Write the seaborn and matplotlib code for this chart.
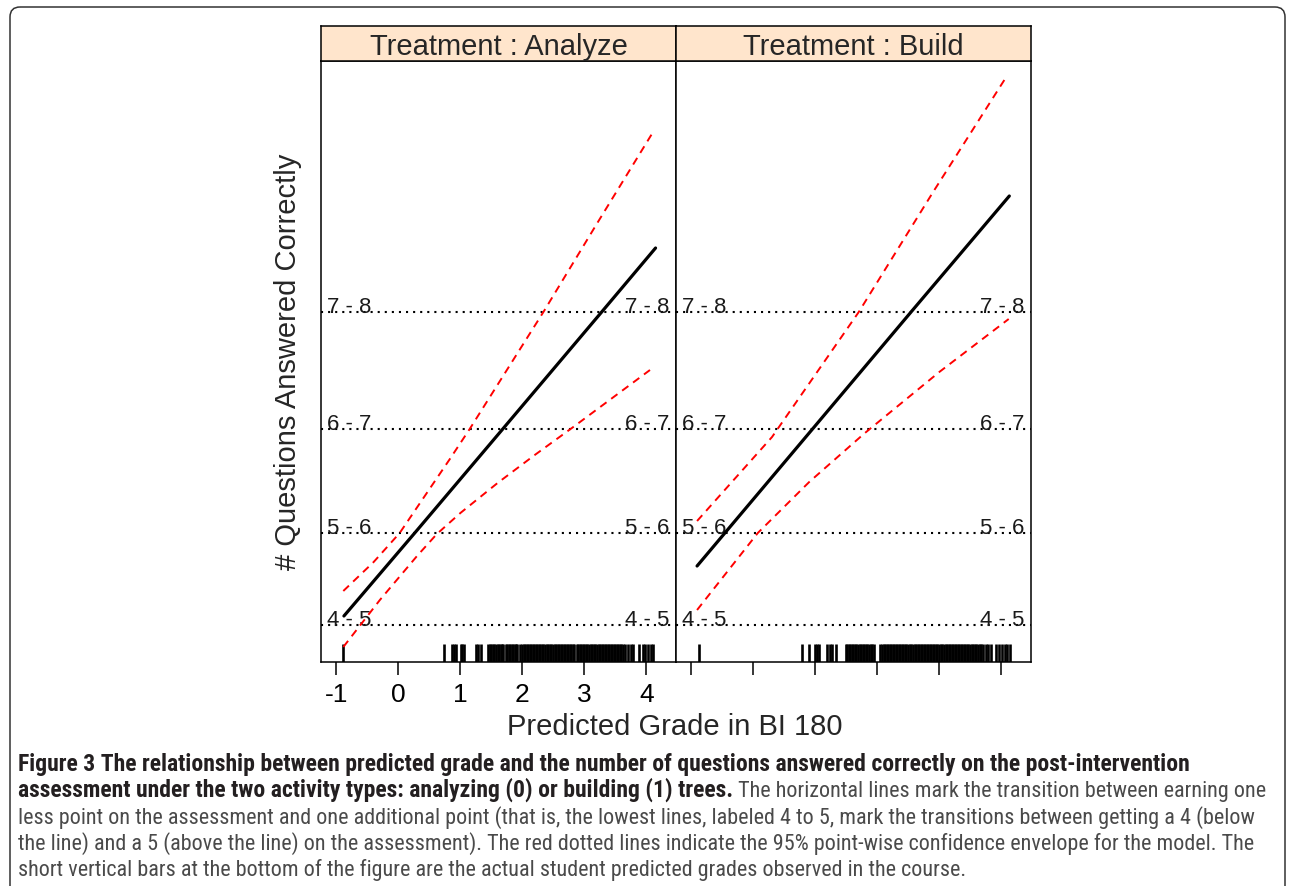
import matplotlib
matplotlib.use('Agg')
import matplotlib.pyplot as plt
from matplotlib import font_manager
from matplotlib.patches import FancyBboxPatch
import seaborn as sns
import pandas as pd
import numpy as np

# ---- data (latent scale on y) ----
treatments = ['Analyze', 'Build']
x_ticks = [-1, 0, 1, 2, 3, 4]

thresholds = [0.37, 1.29, 2.33, 3.50]
threshold_labels = ['4 - 5', '5 - 6', '6 - 7', '7 - 8']

analyze_fit_x = [-0.88, 0.29, 1.67, 3.28, 4.15]
analyze_fit_y = [0.46, 1.31, 2.32, 3.50, 4.14]
analyze_upper_x = [-0.89, -0.40, 0.02, 0.83, 1.15, 2.34, 3.20, 4.11]
analyze_upper_y = [0.71, 1.00, 1.29, 2.03, 2.33, 3.50, 4.38, 5.30]
analyze_lower_x = [-0.89, -0.30, 0.30, 0.62, 1.00, 1.60, 2.20, 2.80, 4.06]
analyze_lower_y = [0.15, 0.62, 1.06, 1.28, 1.49, 1.79, 2.07, 2.34, 2.92]

build_fit_x = [-0.91, 0.94, 2.53, 4.13]
build_fit_y = [0.96, 2.32, 3.49, 4.66]
build_upper_x = [-0.91, 0.30, 1.70, 2.90, 4.06]
build_upper_y = [1.41, 2.25, 3.50, 4.70, 5.83]
build_lower_x = [-0.91, 0.07, 0.90, 1.78, 3.00, 4.12]
build_lower_y = [0.52, 1.29, 1.80, 2.28, 2.90, 3.43]

analyze_rug = [
    -0.89, 0.74, 0.87, 0.90, 0.93, 1.01, 1.03, 1.06, 1.25, 1.29, 1.34,
    1.45, 1.47, 1.50, 1.52, 1.55, 1.57, 1.60, 1.62, 1.65, 1.67, 1.69,
    1.73, 1.75, 1.78, 1.80, 1.83, 1.85, 1.88, 1.90, 1.92,
    1.97, 1.99, 2.02, 2.04, 2.07, 2.09, 2.12, 2.14, 2.17, 2.19, 2.22, 2.24,
    2.27, 2.29, 2.32, 2.34, 2.37, 2.39, 2.42, 2.44, 2.47, 2.49, 2.52, 2.54,
    2.57, 2.59, 2.62, 2.64, 2.67, 2.69, 2.72, 2.74, 2.77, 2.79, 2.82, 2.84,
    2.88, 2.90, 2.93, 2.95, 2.98, 3.00, 3.03, 3.05, 3.08, 3.10, 3.13, 3.15,
    3.18, 3.20, 3.23, 3.25, 3.28, 3.30, 3.33, 3.35, 3.38, 3.40, 3.43, 3.45,
    3.48, 3.50, 3.53, 3.55, 3.58, 3.60, 3.63, 3.66,
    3.71, 3.75, 3.79, 3.89, 3.94, 3.98, 4.03, 4.08, 4.11,
]
build_rug = [
    -0.88, 0.79, 0.90, 0.99, 1.02, 1.06, 1.19, 1.24, 1.27, 1.34,
    1.49, 1.51, 1.54, 1.56, 1.59, 1.61, 1.64, 1.66, 1.69,
    1.72, 1.74, 1.77, 1.79, 1.82, 1.84, 1.87, 1.89, 1.92, 1.94,
    2.05, 2.07, 2.10, 2.12, 2.15, 2.17, 2.20, 2.22, 2.25, 2.27, 2.30, 2.32,
    2.35, 2.37, 2.40, 2.42, 2.45, 2.47, 2.50, 2.52, 2.55, 2.57, 2.60, 2.62,
    2.65, 2.67, 2.70, 2.72, 2.75, 2.77, 2.80, 2.82, 2.85, 2.87, 2.90, 2.92,
    2.95, 2.97, 3.00, 3.02, 3.05, 3.07, 3.10, 3.12, 3.15, 3.17, 3.20, 3.22,
    3.25, 3.27, 3.30, 3.32, 3.35, 3.37, 3.40, 3.42, 3.45, 3.47, 3.50, 3.52,
    3.55, 3.57, 3.60, 3.62, 3.65, 3.67, 3.70,
    3.75, 3.79, 3.83, 3.92, 3.97, 4.01, 4.06, 4.10, 4.14,
]

caption_lines = [
    [("Figure 3 The relationship between predicted grade and the number of "
      "questions answered correctly on the post-intervention", 'bold')],
    [("assessment under the two activity types: analyzing (0) or building (1) trees.", 'bold'),
     (" The horizontal lines mark the transition between earning one", 'normal')],
    [("less point on the assessment and one additional point (that is, the lowest lines, "
      "labeled 4 to 5, mark the transitions between getting a 4 (below", 'normal')],
    [("the line) and a 5 (above the line) on the assessment). The red dotted lines indicate "
      "the 95% point-wise confidence envelope for the model. The", 'normal')],
    [("short vertical bars at the bottom of the figure are the actual student predicted "
      "grades observed in the course.", 'normal')],
]
caption_right = [1193, 1262, 1262, 1261, 970]
caption_base = [771, 797, 824, 850, 876]

curves = {
    'Analyze': {'fit': (analyze_fit_x, analyze_fit_y),
                'upper': (analyze_upper_x, analyze_upper_y),
                'lower': (analyze_lower_x, analyze_lower_y)},
    'Build': {'fit': (build_fit_x, build_fit_y),
              'upper': (build_upper_x, build_upper_y),
              'lower': (build_lower_x, build_lower_y)},
}
rows = []
for t, cs in curves.items():
    for name, (xs, ys) in cs.items():
        for i, (xv, yv) in enumerate(zip(xs, ys)):
            rows.append((t, name, i, xv, yv))
df = pd.DataFrame(rows, columns=['Treatment', 'curve', 'order', 'x', 'y'])
rugs = {'Analyze': analyze_rug, 'Build': build_rug}

# ---- style ----
sns.set_theme(style='white')
plt.rcParams['font.family'] = ['Liberation Sans', 'DejaVu Sans']
names = {f.name for f in font_manager.fontManager.ttflist}
cap_font = next((n for n in ['Liberation Sans Narrow', 'Roboto Condensed',
                             'Open Sans Condensed', 'Roboto'] if n in names), 'DejaVu Sans')

W, H = 1292, 887
fig = plt.figure(figsize=(W / 100, H / 100), dpi=100)
fig.patch.set_facecolor('white')

# pixel-coordinate overlay for frame, labels and caption
over = fig.add_axes([0, 0, 1, 1], zorder=5)
over.set_xlim(0, W)
over.set_ylim(H, 0)
over.axis('off')
over.patch.set_alpha(0)

panel_left = [321, 676]
panel_w = 355
top_px, bot_px, strip_top = 62, 663, 27
xlim = (-1.25, 4.48)
ylim = (0, 6.01)

for i, t in enumerate(treatments):
    ax = fig.add_axes([panel_left[i] / W, 1 - bot_px / H, panel_w / W, (bot_px - top_px) / H])
    sub = df[df.Treatment == t]
    for th, lab in zip(thresholds, threshold_labels):
        ax.axhline(th, color='black', lw=1.5, ls=(0, (1, 2.4)), zorder=1)
        tr = ax.get_yaxis_transform()
        ax.text(0.017, th, lab, transform=tr, ha='left', va='baseline',
                fontsize=16, color='#1a1a1a', zorder=2)
        ax.text(0.982, th, lab, transform=tr, ha='right', va='baseline',
                fontsize=16, color='#1a1a1a', zorder=2)
    for c in ['upper', 'lower']:
        sns.lineplot(data=sub[sub.curve == c], x='x', y='y', ax=ax, sort=False,
                     estimator=None, color='#ff0000', lw=1.4, linestyle=(0, (4, 3)), zorder=3)
    sns.lineplot(data=sub[sub.curve == 'fit'], x='x', y='y', ax=ax, sort=False,
                 estimator=None, color='black', lw=2.3, zorder=4)
    sns.rugplot(x=rugs[t], ax=ax, height=0.03, color='black', linewidth=1.9,
                expand_margins=False)
    ax.set_xlim(*xlim)
    ax.set_ylim(*ylim)
    ax.set_xlabel('')
    ax.set_ylabel('')
    ax.set_yticks([])
    ax.set_xticks(x_ticks)
    if i == 1:
        ax.set_xticklabels([])
    else:
        ax.set_xticklabels([str(v) for v in x_ticks])
    ax.tick_params(axis='x', bottom=True, direction='out', length=9.4, width=1.1,
                   pad=5, labelsize=19, colors='black')
    for s in ax.spines.values():
        s.set_color('black')
        s.set_linewidth(1.1)

    sax = fig.add_axes([panel_left[i] / W, 1 - top_px / H, panel_w / W, (top_px - strip_top) / H])
    sax.set_facecolor('#ffe5cc')
    sax.set_xticks([])
    sax.set_yticks([])
    for s in sax.spines.values():
        s.set_color('black')
        s.set_linewidth(1.1)
    sax.text(0.5, 0.42, 'Treatment : ' + t, ha='center', va='center', fontsize=21,
             transform=sax.transAxes)

over.text(288, 362, '# Questions Answered Correctly', rotation=90, ha='center',
          va='center', fontsize=21)
over.text(675, 727, 'Predicted Grade in BI 180', ha='center', va='center', fontsize=21)

frame = FancyBboxPatch((10, 8), 1275, 920, boxstyle='round,pad=0,rounding_size=10',
                       fc='none', ec='#333333', lw=1.1, clip_on=False)
over.add_patch(frame)

# caption: bold and regular sizes chosen so the lines span the original widths
renderer = fig.canvas.get_renderer()
base_size = 14
objs = []
for segs in caption_lines:
    line_objs = []
    for txt, wt in segs:
        o = over.text(18, 0, txt, fontsize=base_size, fontweight=wt, family=cap_font,
                      color='#231f20' if wt == 'bold' else '#4a4a4a', va='baseline')
        line_objs.append((o, wt))
    objs.append(line_objs)


def line_width(k):
    return sum(o.get_window_extent(renderer).width for o, _ in objs[k])


bold_size = base_size * (caption_right[0] - 18) / line_width(0)
reg_size = base_size * np.mean([(caption_right[k] - 18) / line_width(k) for k in (2, 3)])
for line_objs, yb in zip(objs, caption_base):
    xpos = 18
    for o, wt in line_objs:
        o.set_fontsize(bold_size if wt == 'bold' else reg_size)
        o.set_position((xpos, yb))
        xpos += o.get_window_extent(renderer).width

fig.savefig('out.png', dpi=100)
